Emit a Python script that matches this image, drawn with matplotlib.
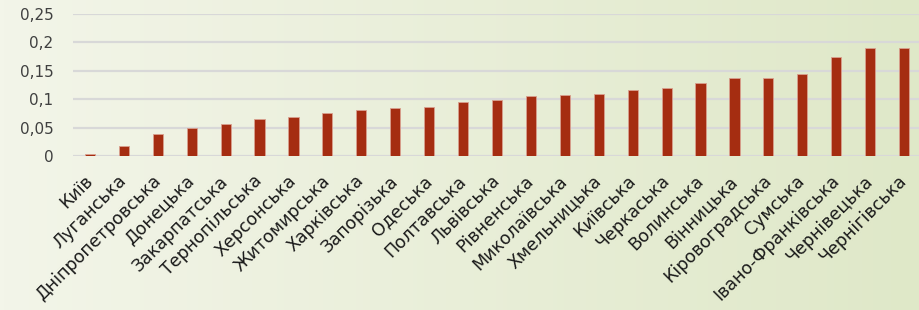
import numpy as np
import matplotlib
matplotlib.use("Agg")
import matplotlib.pyplot as plt
from matplotlib.colors import LinearSegmentedColormap

# Oblasts and values
regions = ["Київ", "Луганська", "Дніпропетровська", "Донецька", "Закарпатська",
           "Тернопільська", "Херсонська", "Житомирська", "Харківська", "Запорізька",
           "Одеська", "Полтавська", "Львівська", "Рівненська", "Миколаївська",
           "Хмельницька", "Київська", "Черкаська", "Волинська", "Вінницька",
           "Кіровоградська", "Сумська", "Івано-Франківська", "Чернівецька", "Чернігівська"]
values = [0.003, 0.018, 0.039, 0.050, 0.056, 0.066, 0.068, 0.076, 0.081, 0.084,
          0.086, 0.095, 0.099, 0.106, 0.108, 0.110, 0.117, 0.119, 0.129, 0.137,
          0.137, 0.144, 0.175, 0.191, 0.191]
y_ticks = [0, 0.05, 0.1, 0.15, 0.2, 0.25]
y_labels = ["0", "0,05", "0,1", "0,15", "0,2", "0,25"]

plt.rcParams['font.family'] = ['DejaVu Sans']

fig = plt.figure(figsize=(9.2, 3.1), dpi=100)

# background gradient, cream on the left to pale green on the right
bg = fig.add_axes([0, 0, 1, 1], zorder=-10)
cmap = LinearSegmentedColormap.from_list("bg", ["#f3f5e9", "#dfe8c8"])
grad = np.linspace(0, 1, 256).reshape(1, -1)
bg.imshow(grad, aspect="auto", cmap=cmap, extent=[0, 1, 0, 1])
bg.axis("off")

ax = fig.add_axes([73 / 920, 154 / 310, 848 / 920, 142 / 310])
ax.patch.set_alpha(0)

x = np.arange(len(regions))
ax.bar(x, values, width=0.3, color="#a52d11", edgecolor="#d9a08f", linewidth=0.6, zorder=3)

ax.set_ylim(0, 0.25)
ax.set_xlim(-0.5, len(regions) - 0.5)
ax.set_yticks(y_ticks)
ax.set_yticklabels(y_labels, fontsize=11, color="#404040")
ax.yaxis.grid(True, color="#d8d8d8", linewidth=1.6, zorder=0)
ax.set_xticks(x)
ax.set_xticklabels(regions, rotation=45, ha="right", va="center", rotation_mode="anchor",
                   fontsize=12.5, color="#1a1a1a")
ax.tick_params(length=0)
ax.tick_params(axis="x", pad=16)
ax.tick_params(axis="y", pad=14)
for s in ax.spines.values():
    s.set_visible(False)

fig.savefig("out.png", dpi=100)
